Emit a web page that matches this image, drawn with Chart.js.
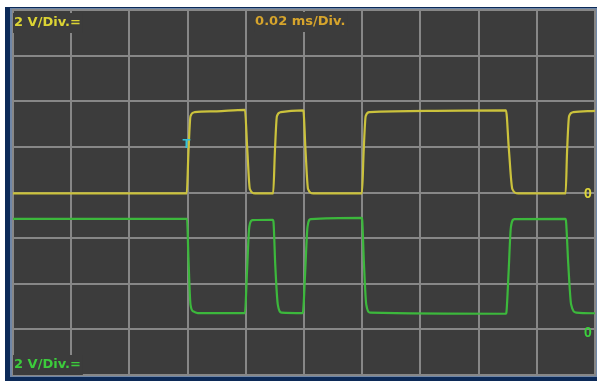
<!DOCTYPE html>
<html>
<head>
<meta charset="utf-8">
<script src="https://cdn.jsdelivr.net/npm/chart.js@4"></script>
<style>
  html, body { margin: 0; padding: 0; background: #ffffff; }
  #wrap { position: relative; width: 597px; height: 381px; }
</style>
</head>
<body>
<div id="wrap"><canvas id="c"></canvas></div>
<script>
// Time base: 0.02 ms/Div (values in microseconds), 10 divisions
const timeTicks = [0, 20, 40, 60, 80, 100, 120, 140, 160, 180, 200];
// Channel 1 (yellow), 2 V/Div, values in volts
const ch1Time = [0, 59.7, 60.3, 61.0, 62.4, 70, 79.7, 80.5, 81.4, 83.2,
  89.4, 90.0, 90.7, 92.0, 99.6, 99.8, 100.5, 101.4, 103.2,
  119.9, 120.5, 121.2, 122.5, 145, 169.4, 170.4, 171.6, 173.6,
  189.9, 190.4, 191.1, 192.5, 200];
const ch1Volt = [-0.04, -0.04, 1.8, 3.35, 3.52, 3.56, 3.62, 1.9, 0.15, -0.04,
  -0.04, 1.8, 3.35, 3.52, 3.6, 3.58, 1.9, 0.15, -0.04,
  -0.04, 1.8, 3.35, 3.52, 3.58, 3.6, 1.9, 0.15, -0.04,
  -0.04, 1.8, 3.35, 3.52, 3.58];
// Channel 2 (green), 2 V/Div, values in volts
const ch2Time = [0, 59.8, 60.3, 61.0, 62.0, 63.5, 79.7, 80.4, 81.2, 82.3,
  89.3, 89.5, 90.1, 91.0, 92.3, 99.5, 99.7, 100.4, 101.2, 102.3,
  119.8, 120.0, 120.6, 121.4, 122.8, 169.4, 169.6, 170.3, 171.1, 172.3,
  189.8, 190.0, 190.8, 191.8, 193.6, 200];
const ch2Volt = [4.96, 4.96, 3.2, 1.2, 0.9, 0.83, 0.83, 2.6, 4.6, 4.9,
  4.92, 4.85, 3.0, 1.2, 0.85, 0.83, 0.9, 2.6, 4.6, 4.95,
  5.0, 4.9, 3.0, 1.2, 0.85, 0.8, 0.9, 2.6, 4.6, 4.95,
  4.96, 4.9, 3.0, 1.2, 0.85, 0.82];
// Vertical scales (volts)
const ch1Range = [-8, 8];
const ch2Range = [-1.886, 14.114];
const voltStep = 2;

const labels = {
  ch1Scale: '2 V/Div.=',
  ch2Scale: '2 V/Div.=',
  timeScale: '0.02 ms/Div.',
  trigger: 'T',
  zero: '0'
};

const COL_BG = '#3c3c3c';
const COL_GRID = '#878787';
const COL_Y = '#cbc23c';
const COL_G = '#3cb83c';

const framePlugin = {
  id: 'frame',
  beforeDraw(chart) {
    const ctx = chart.ctx, a = chart.chartArea;
    ctx.save();
    ctx.fillStyle = '#ffffff';
    ctx.fillRect(0, 0, chart.width, chart.height);
    ctx.fillStyle = '#0c2a58';
    ctx.fillRect(5, 7, chart.width - 5, chart.height - 7);
    ctx.strokeStyle = '#6f86a6';
    ctx.lineWidth = 2;
    ctx.strokeRect(a.left - 2, a.top - 1, a.right - a.left + 3, a.bottom - a.top + 2);
    ctx.fillStyle = COL_BG;
    ctx.fillRect(a.left, a.top, a.right - a.left, a.bottom - a.top);
    ctx.restore();
  },
  afterDraw(chart) {
    const ctx = chart.ctx, a = chart.chartArea;
    const x = chart.scales.x, y = chart.scales.y, y2 = chart.scales.y2;
    ctx.save();
    ctx.font = 'bold 13px "DejaVu Sans"';
    ctx.textBaseline = 'middle';
    function boxed(text, px, py, color) {
      const w = ctx.measureText(text).width;
      ctx.fillStyle = COL_BG;
      ctx.fillRect(px - 1, py - 10, w + 3, 20);
      ctx.fillStyle = color;
      ctx.fillText(text, px, py);
    }
    ctx.textAlign = 'left';
    boxed(labels.ch1Scale, a.left + 1, a.top + 13, '#dcd434');
    boxed(labels.timeScale, x.getPixelForValue(83.2), a.top + 12, '#d6a42c');
    boxed(labels.ch2Scale, a.left + 1, a.bottom - 10, '#3ccc3c');
    // zero markers
    ctx.font = 'bold 14px "Liberation Sans Narrow", "Liberation Sans"';
    ctx.textAlign = 'center';
    ctx.fillStyle = '#e0d83a';
    ctx.fillText(labels.zero, a.right - 7, y.getPixelForValue(0) + 2);
    ctx.fillStyle = '#3cd23c';
    ctx.fillText(labels.zero, a.right - 7, y2.getPixelForValue(0) + 1);
    // trigger marker
    ctx.font = 'bold 13px "Liberation Sans"';
    ctx.fillStyle = '#30c4d8';
    ctx.fillText(labels.trigger, x.getPixelForValue(59.6), y.getPixelForValue(2.1));
    ctx.restore();
  }
};

new Chart(document.getElementById('c'), {
  type: 'line',
  data: {
    datasets: [
      {
        label: 'CH1',
        data: ch1Time.map((t, i) => ({ x: t, y: ch1Volt[i] })),
        borderColor: COL_Y,
        borderWidth: 2.2,
        pointRadius: 0,
        cubicInterpolationMode: 'monotone',
        yAxisID: 'y'
      },
      {
        label: 'CH2',
        data: ch2Time.map((t, i) => ({ x: t, y: ch2Volt[i] })),
        borderColor: COL_G,
        borderWidth: 2.2,
        pointRadius: 0,
        cubicInterpolationMode: 'monotone',
        yAxisID: 'y2'
      }
    ]
  },
  options: {
    responsive: true,
    maintainAspectRatio: false,
    animation: false,
    layout: { padding: { left: 13, top: 10, right: 2, bottom: 6 } },
    plugins: { legend: { display: false }, tooltip: { enabled: false } },
    scales: {
      x: {
        type: 'linear',
        min: timeTicks[0],
        max: timeTicks[timeTicks.length - 1],
        afterBuildTicks(s) { s.ticks = timeTicks.map(v => ({ value: v })); },
        ticks: { display: false },
        grid: { color: COL_GRID, lineWidth: 2, drawTicks: false },
        border: { display: true, color: COL_GRID, width: 2 }
      },
      y: {
        type: 'linear',
        min: ch1Range[0],
        max: ch1Range[1],
        ticks: { display: false, stepSize: voltStep },
        grid: { color: COL_GRID, lineWidth: 2, drawTicks: false },
        border: { display: true, color: COL_GRID, width: 2 }
      },
      y2: {
        type: 'linear',
        display: false,
        min: ch2Range[0],
        max: ch2Range[1]
      }
    }
  },
  plugins: [framePlugin]
});
</script>
</body>
</html>
